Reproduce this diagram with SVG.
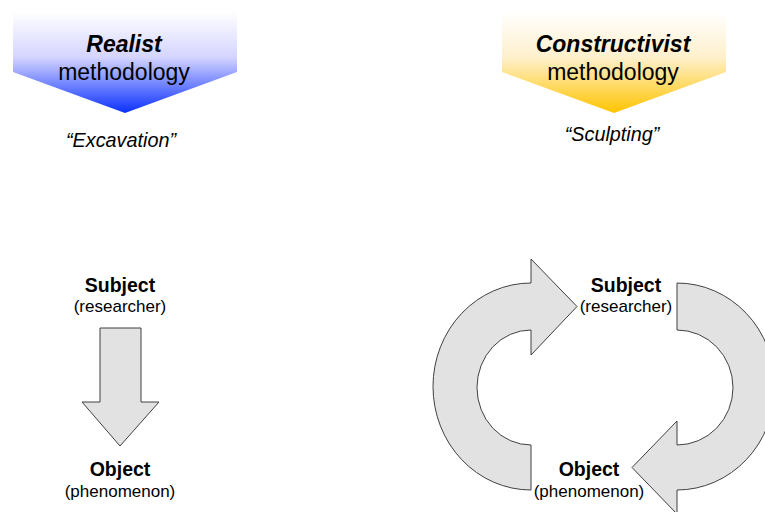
<svg xmlns="http://www.w3.org/2000/svg" width="765" height="512" viewBox="0 0 765 512">
  <defs>
    <linearGradient id="gradBlue" x1="0" y1="12" x2="0" y2="113" gradientUnits="userSpaceOnUse">
      <stop offset="0" stop-color="#ffffff"/>
      <stop offset="0.45" stop-color="#d4d4ff"/>
      <stop offset="1" stop-color="#0a30ff"/>
    </linearGradient>
    <linearGradient id="gradGold" x1="0" y1="12" x2="0" y2="113" gradientUnits="userSpaceOnUse">
      <stop offset="0" stop-color="#ffffff"/>
      <stop offset="0.45" stop-color="#fff0cc"/>
      <stop offset="1" stop-color="#ffc400"/>
    </linearGradient>
  </defs>
  <style>
    text { font-family: "Liberation Sans", Arial, sans-serif; fill: #000; text-anchor: middle; }
    .head { font-size: 23px; }
    .bi { font-weight: bold; font-style: italic; }
    .quote { font-size: 19.8px; font-style: italic; }
    .lbl { font-size: 19.5px; font-weight: bold; }
    .sub { font-size: 17px; }
    .arrow { fill: #e2e2e2; stroke: #404040; stroke-width: 1; stroke-linejoin: miter; }
  </style>

  <!-- Realist column header -->
  <g id="realist-header">
    <polygon points="13,12 237,12 237,72 125,113 13,72" fill="url(#gradBlue)"/>
    <text class="head bi" x="124" y="52">Realist</text>
    <text class="head" x="124" y="80">methodology</text>
    <text class="quote" x="121" y="147">“Excavation”</text>
  </g>

  <!-- Constructivist column header -->
  <g id="constructivist-header">
    <polygon points="502,12 726,12 726,72 614,113 502,72" fill="url(#gradGold)"/>
    <text class="head bi" x="613" y="52">Constructivist</text>
    <text class="head" x="613" y="80">methodology</text>
    <text class="quote" x="612" y="141">“Sculpting”</text>
  </g>

  <!-- Realist nodes -->
  <g id="realist-subject">
    <text class="lbl" x="120" y="292">Subject</text>
    <text class="sub" x="120" y="312">(researcher)</text>
  </g>
  <g id="realist-object">
    <text class="lbl" x="120" y="476">Object</text>
    <text class="sub" x="120" y="497">(phenomenon)</text>
  </g>

  <!-- Constructivist nodes -->
  <g id="constructivist-subject">
    <text class="lbl" x="626" y="292">Subject</text>
    <text class="sub" x="626" y="312">(researcher)</text>
  </g>
  <g id="constructivist-object">
    <text class="lbl" x="589" y="476">Object</text>
    <text class="sub" x="589" y="497">(phenomenon)</text>
  </g>

  <!-- Connectors -->
  <g id="connectors">
    <!-- one-way: subject down to object -->
    <polygon class="arrow" points="100,328 141,328 141,402 159,402 120,446 82,402 100,402"/>
    <!-- cycle: object up to subject (left arc) -->
    <path class="arrow" d="M531,283 L531,259 L577,306.5 L531,355 L531,330 A54,57.5 0 0 0 531,445 L531,490 A98,103.5 0 0 1 531,283 Z"/>
    <!-- cycle: subject down to object (right arc) -->
    <path class="arrow" d="M677,283 A98,103.5 0 0 1 677,490 L677,514 L632,467.5 L677,421 L677,445 A56,57.5 0 0 0 677,330 Z"/>
  </g>
</svg>
